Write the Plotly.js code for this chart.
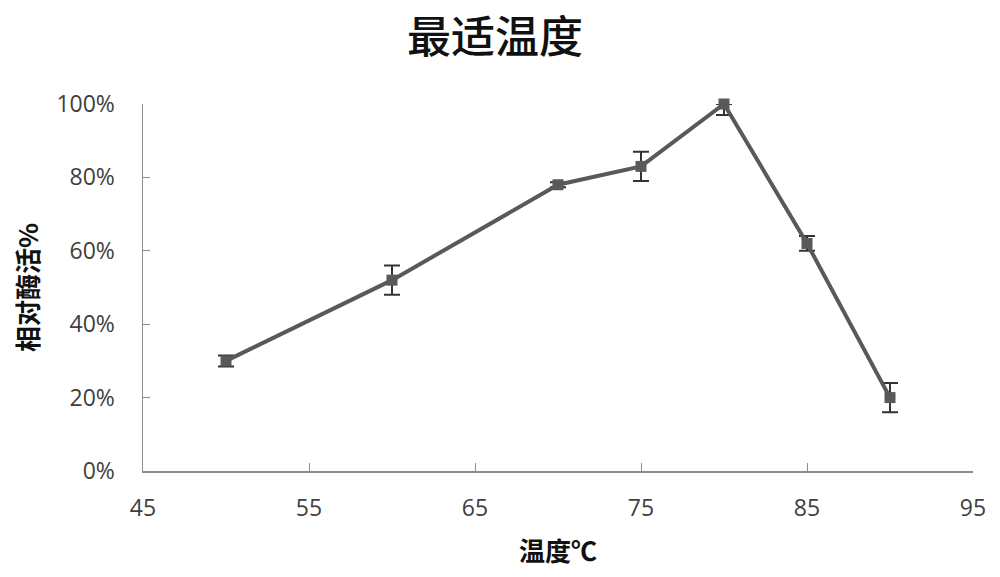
<!DOCTYPE html>
<html>
<head>
<meta charset="utf-8">
<script src="https://cdn.plot.ly/plotly-3.0.1.min.js"></script>
<style>
    html, body { margin: 0; padding: 0; background: #fff; }
    #chart { width: 1000px; height: 577px; }
</style>
</head>
<body>
<div id="chart"></div>
<script>
// Температура, °C.
const temps = [50, 60, 70, 75, 80, 85, 90];
// Відносна активність ферменту (частка від 1).
const activity = [0.30, 0.52, 0.78, 0.83, 1.00, 0.62, 0.20];
// Похибки вгору та вниз (у точці 80 верхню відрізано віссю).
const errUp = [0.015, 0.04, 0.007, 0.04, 0.0, 0.02, 0.04];
const errDown = [0.015, 0.04, 0.007, 0.04, 0.03, 0.02, 0.04];
// Поділки осей.
const xTicks = [45, 55, 65, 75, 85, 95];
const yTicks = [0, 0.2, 0.4, 0.6, 0.8, 1.0];

const grey = "#595959";
const axisGrey = "#8c8c8c";
const tickFont = { family: "Open Sans, Liberation Sans, sans-serif", size: 23, color: "#404040" };
const cjkFont = "Noto Sans CJK SC, sans-serif";

const trace = {
    x: temps,
    y: activity,
    type: "scatter",
    mode: "lines+markers",
    line: { color: grey, width: 4 },
    marker: { symbol: "square", size: 11, color: grey },
    error_y: {
        type: "data",
        symmetric: false,
        array: errUp,
        arrayminus: errDown,
        color: "#333",
        thickness: 2,
        width: 8,
    },
    cliponaxis: false,
    showlegend: false,
};

const layout = {
    width: 1000,
    height: 577,
    margin: { l: 143, r: 27, t: 104, b: 106 },
    paper_bgcolor: "#fff",
    plot_bgcolor: "#fff",
    title: {
        text: "最适温度",
        font: { family: cjkFont, size: 44, color: "#111", weight: 500 },
        x: 0.495,
        xanchor: "center",
        yref: "container",
        y: 0.935,
        yanchor: "middle",
    },
    xaxis: {
        range: [45, 95],
        tickvals: xTicks,
        ticks: "inside",
        ticklen: 8,
        tickcolor: axisGrey,
        showline: true,
        linecolor: axisGrey,
        linewidth: 1.5,
        showgrid: false,
        zeroline: false,
        tickfont: tickFont,
        ticklabelstandoff: 16,
        title: {
            text: "温度℃",
            font: { family: cjkFont, size: 26, color: "#111", weight: 700 },
            standoff: 20,
        },
    },
    yaxis: {
        range: [0, 1.0],
        tickvals: yTicks,
        tickformat: ".0%",
        ticks: "inside",
        ticklen: 7,
        tickcolor: axisGrey,
        showline: true,
        linecolor: axisGrey,
        linewidth: 1.5,
        showgrid: false,
        zeroline: false,
        tickfont: tickFont,
        ticklabelstandoff: 22,
        title: {
            text: "相对酶活%",
            font: { family: cjkFont, size: 26, color: "#111", weight: 700 },
            standoff: 10,
        },
    },
};

Plotly.newPlot("chart", [trace], layout, { displayModeBar: false, staticPlot: true });
</script>
</body>
</html>
